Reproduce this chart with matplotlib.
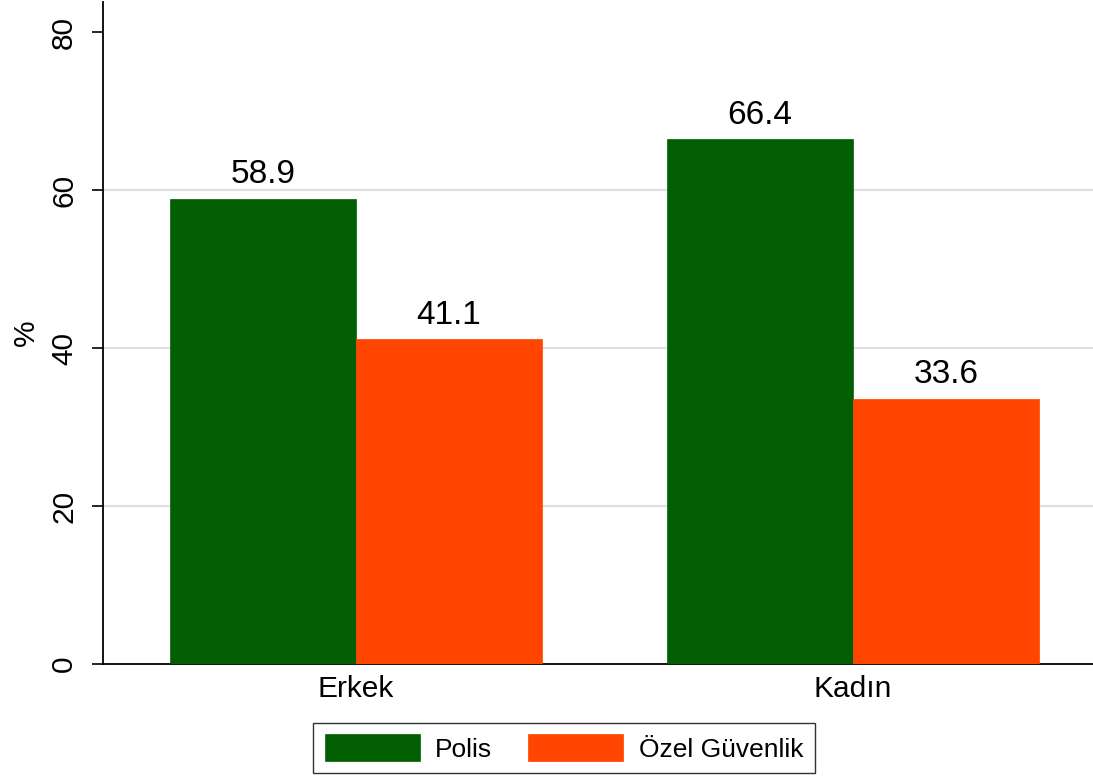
import numpy as np
import matplotlib
matplotlib.use("Agg")
import matplotlib.pyplot as plt

# data
categories = ["Erkek", "Kadın"]
series = ["Polis", "Özel Güvenlik"]
polis = [58.9, 66.4]
ozel = [41.1, 33.6]
colors = ["#025e02", "#ff4500"]

plt.rcParams['font.family'] = ['Liberation Sans', 'DejaVu Sans']

fig = plt.figure(figsize=(10.93, 7.77), dpi=100)
ax = fig.add_axes([103/1093, 1 - 664/777, 990/1093, 662/777])

x = np.arange(len(categories))
w = 0.374
for vals, off, c, name in [(polis, -w/2, colors[0], series[0]), (ozel, w/2, colors[1], series[1])]:
    bars = ax.bar(x + off, vals, width=w, color=c, edgecolor=c, linewidth=0.5, label=name, zorder=3)
    for b, v in zip(bars, vals):
        ax.text(b.get_x() + b.get_width()/2, v + 1.1, f"{v:.1f}", ha="center", va="bottom",
                fontsize=24)

ax.set_xlim(-0.509, 1.483)
ax.set_ylim(0, 83.8)
ax.set_yticks([0, 20, 40, 60, 80])
ax.set_yticklabels(["0", "20", "40", "60", "80"], rotation=90, va="center", fontsize=21.5)
ax.set_xticks(x)
ax.set_xticklabels(categories, fontsize=21.5)
ax.tick_params(axis="x", length=0, pad=8)
ax.tick_params(axis="y", length=8, width=1.2, pad=10)
for yv in [20, 40, 60]:
    ax.axhline(yv, color="#e0e0e0", linewidth=1.6, zorder=1)
for s in ["top", "right"]:
    ax.spines[s].set_visible(False)
ax.spines["left"].set_linewidth(1.3)
ax.spines["bottom"].set_linewidth(1.3)
ax.set_ylabel("%", fontsize=21.5)
ax.yaxis.set_label_coords(-63/990, 0.5)

leg = fig.legend(loc="center", bbox_to_anchor=(564/1093, 1 - 748/777), ncol=2, fontsize=19,
                 frameon=True, fancybox=False, edgecolor="black", handlelength=3.6,
                 handleheight=1.15, columnspacing=1.35, borderpad=0.45, handletextpad=0.6)
leg.get_frame().set_linewidth(1.0)

fig.savefig("out.png", dpi=100)
